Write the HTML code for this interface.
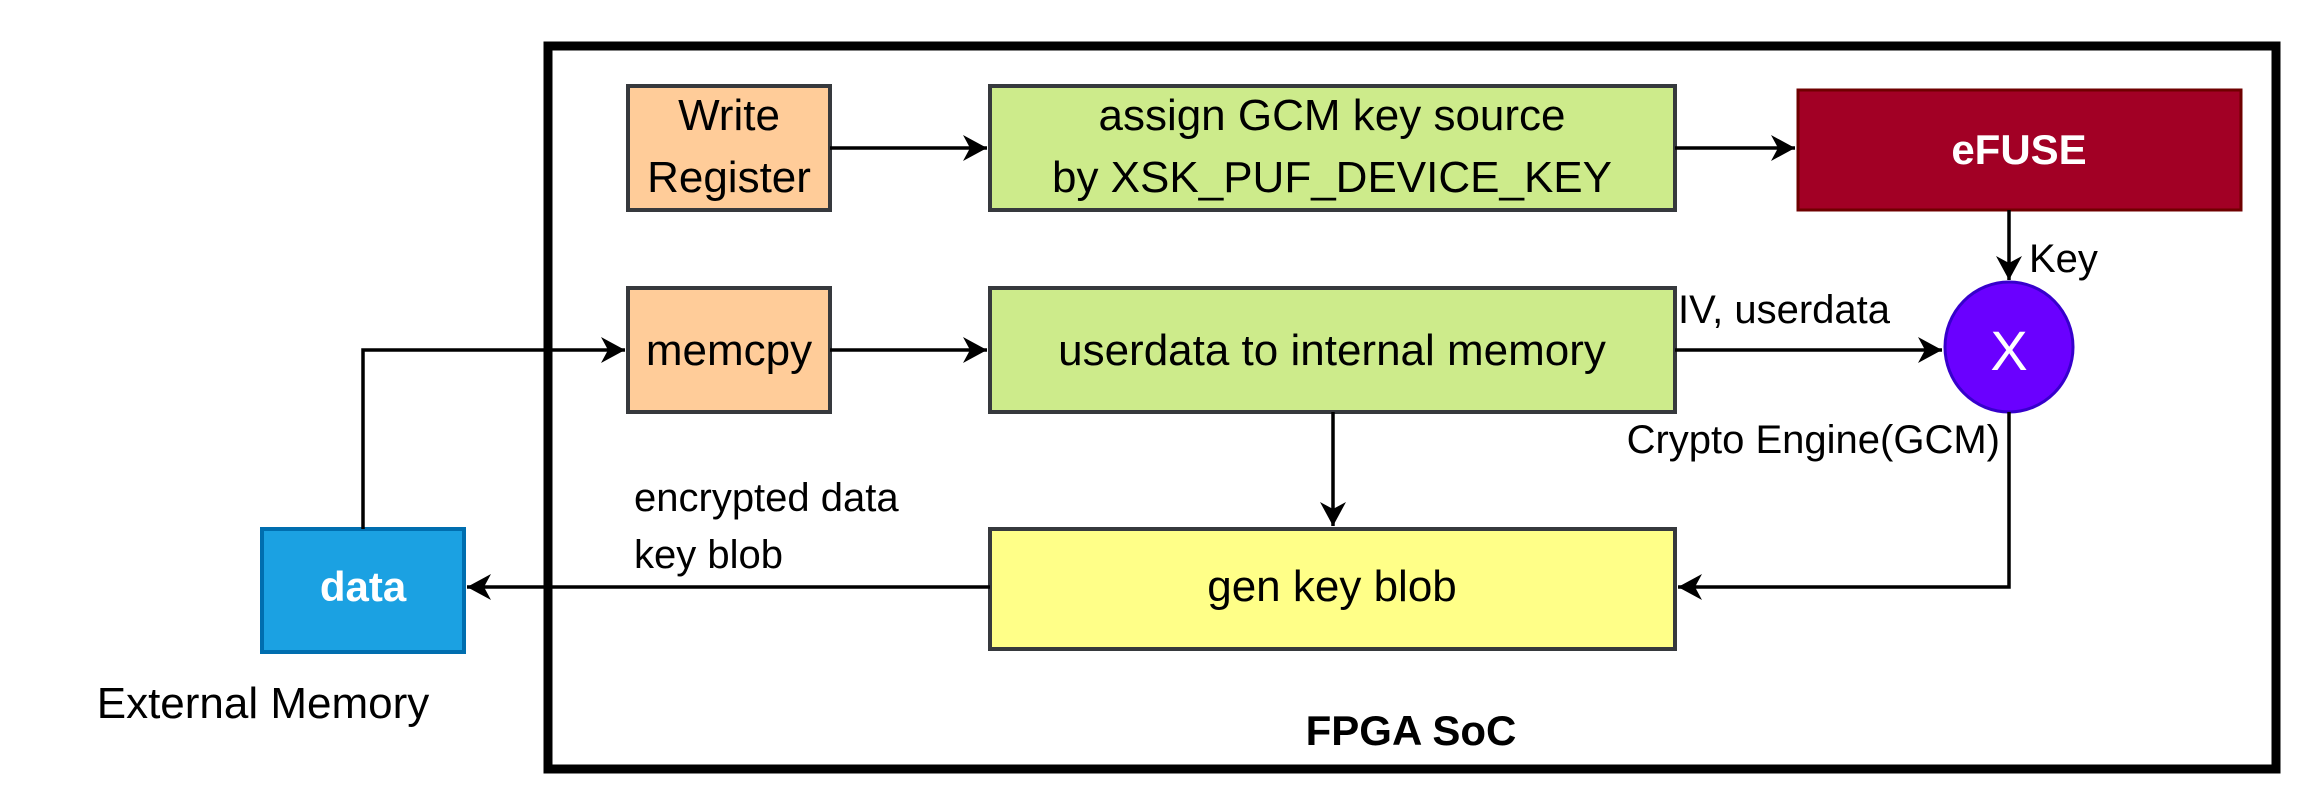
<!DOCTYPE html>
<html><head><meta charset="utf-8"><style>body{margin:0;background:#fff}svg{display:block}text{font-family:"Liberation Sans",sans-serif}</style></head>
<body>
<svg width="2312" height="812" viewBox="0 0 2312 812" xmlns="http://www.w3.org/2000/svg">
<defs><marker id="a" markerWidth="26" markerHeight="26" refX="24" refY="13" orient="auto" markerUnits="userSpaceOnUse"><path d="M0,0 L24,13 L0,26 L7,13 Z" fill="#000"/></marker></defs>
<rect x="548" y="46" width="1728" height="723" fill="none" stroke="#000" stroke-width="9"/>
<g stroke="#36393d" stroke-width="4">
<rect x="628" y="86" width="202" height="124" fill="#ffcc99"/>
<rect x="990" y="86" width="685" height="124" fill="#cdeb8b"/>
<rect x="628" y="288" width="202" height="124" fill="#ffcc99"/>
<rect x="990" y="288" width="685" height="124" fill="#cdeb8b"/>
<rect x="990" y="529" width="685" height="120" fill="#ffff88"/>
</g>
<rect x="1798" y="90" width="443" height="120" fill="#a20025" stroke="#6f0000" stroke-width="3"/>
<rect x="262" y="529" width="202" height="123" fill="#1ba1e2" stroke="#006eaf" stroke-width="4"/>
<ellipse cx="2009" cy="347" rx="64" ry="65" fill="#6a00ff" stroke="#3700cc" stroke-width="3"/>
<g stroke="#000" stroke-width="3.5" fill="none">
<path d="M830 148 H987" marker-end="url(#a)"/>
<path d="M1675 148 H1795" marker-end="url(#a)"/>
<path d="M830 350 H987" marker-end="url(#a)"/>
<path d="M363 529 V350 H625" marker-end="url(#a)"/>
<path d="M1675 350 H1942" marker-end="url(#a)"/>
<path d="M2009 210 V280" marker-end="url(#a)"/>
<path d="M1333 412 V526" marker-end="url(#a)"/>
<path d="M2009 412 V587 H1678" marker-end="url(#a)"/>
<path d="M990 587 H467" marker-end="url(#a)"/>
</g>
<g font-size="44" text-anchor="middle" fill="#000">
<text x="729" y="130">Write</text><text x="729" y="192">Register</text>
<text x="1332" y="130">assign GCM key source</text><text x="1332" y="192">by XSK_PUF_DEVICE_KEY</text>
<text x="729" y="365">memcpy</text>
<text x="1332" y="365">userdata to internal memory</text>
<text x="1332" y="601">gen key blob</text>
<text x="263" y="718">External Memory</text>
</g>
<text x="2019" y="164" font-size="42" font-weight="bold" fill="#fff" text-anchor="middle">eFUSE</text>
<text x="363" y="601" font-size="42" font-weight="bold" fill="#fff" text-anchor="middle">data</text>
<text x="2009" y="370" font-size="56" fill="#fff" text-anchor="middle">X</text>
<text x="1411" y="745" font-size="42" font-weight="bold" text-anchor="middle">FPGA SoC</text>
<g font-size="40" fill="#000">
<text x="634" y="511">encrypted data</text>
<text x="634" y="568">key blob</text>
<text x="1678" y="323">IV, userdata</text>
<text x="2029" y="272">Key</text>
<text x="2000" y="453" text-anchor="end">Crypto Engine(GCM)</text>
</g>
</svg>
</body></html>
